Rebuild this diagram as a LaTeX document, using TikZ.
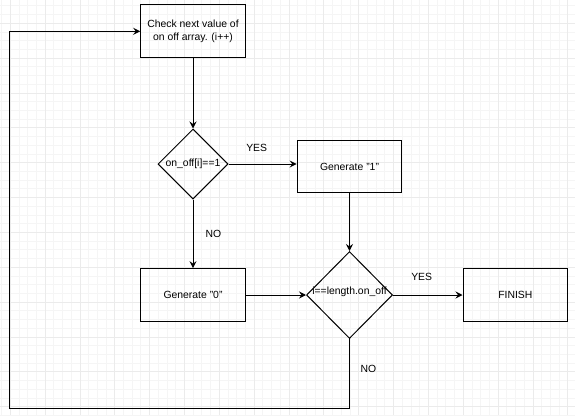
\documentclass[tikz,border=0pt]{standalone}
\usepackage{fontspec}
\setmainfont{Liberation Sans}
\usetikzlibrary{shapes.geometric,arrows.meta}
\begin{document}
\begin{tikzpicture}[x=1pt,y=-1pt,
  box/.style={draw=black, line width=1pt, minimum width=104.6pt, minimum height=52.7pt, inner sep=0pt, align=center, font=\fontsize{10.4}{13}\selectfont},
  dec/.style={draw=black, line width=1pt, diamond, inner sep=0pt},
  lbl/.style={font=\fontsize{10.4}{13}\selectfont, inner sep=0pt},
  conn/.style={line width=1pt, -{Stealth[length=7pt,width=7pt,inset=2.5pt]}},
  minorgrid/.style={draw=black!4, line width=0.8pt},
  majorgrid/.style={draw=black!8, line width=0.8pt}]
\fill[white] (0,0) rectangle (575,415);
\useasboundingbox (0,0) rectangle (575,415);
% grid
\foreach \i in {-2,...,66} \draw[minorgrid] ({10.2+8.7125*\i},0) -- ({10.2+8.7125*\i},415);
\foreach \i in {-3,...,45} \draw[minorgrid] (0,{23.3+8.7125*\i}) -- (575,{23.3+8.7125*\i});
\foreach \i in {-1,...,16} \draw[majorgrid] ({10.2+34.85*\i},0) -- ({10.2+34.85*\i},415);
\foreach \i in {-1,...,11} \draw[majorgrid] (0,{23.3+34.85*\i}) -- (575,{23.3+34.85*\i});
% nodes
\node[box] (check) at (193,31.3) {Check next value of\\on off array. (i++)};
\node[dec, minimum width=70pt, minimum height=70pt] (d1) at (193,164) {};
\node[lbl] (d1t) at (d1.center) {on\_off[i]==1};
\node[box] (gen1) at (349.5,166.5) {Generate "1"};
\node[box] (gen0) at (193,295) {Generate "0"};
\node[dec, minimum width=86pt, minimum height=87pt] (d2) at (349.5,295) {};
\node[lbl] (d2t) at (349.5,292) {i==length.on\_off};
\node[box] (fin) at (515.3,295) {FINISH};
% labels
\node[lbl] (yes1) at (256.7,148.3) {YES};
\node[lbl] (no1) at (213.3,234) {NO};
\node[lbl] (yes2) at (421.7,276.7) {YES};
\node[lbl] (no2) at (368.3,369.3) {NO};
% connectors
\draw[conn] (check.south) -- (d1.north);
\draw[conn] (d1.east) -- (d1.east -| gen1.west);
\draw[conn] (d1.south) -- (gen0.north);
\draw[conn] (gen1.south) -- (d2.north);
\draw[conn] (gen0.east) -- (d2.west);
\draw[conn] (d2.east) -- (fin.west);
\coordinate (lb) at (9.5,408.3);
\draw[conn] (d2.south) -- (d2.south |- lb) -- (lb) -- (lb |- check.west) -- (check.west);
\end{tikzpicture}
\end{document}
